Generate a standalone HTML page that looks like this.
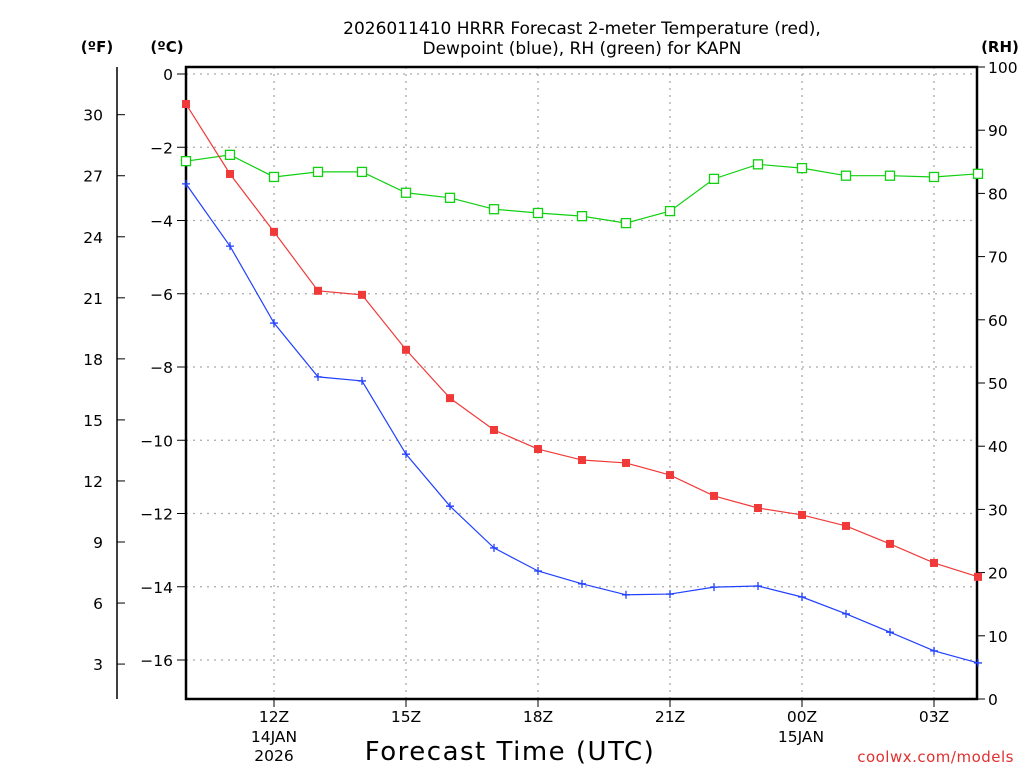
<!DOCTYPE html>
<html><head><meta charset="utf-8"><style>
body{margin:0;background:#fff;width:1024px;height:768px;overflow:hidden}
svg text{font-family:"DejaVu Sans","Liberation Sans",sans-serif}
</style></head><body>
<svg id="c" width="1024" height="768" xmlns="http://www.w3.org/2000/svg">
<text x="582" y="34" font-size="17" text-anchor="middle">2026011410 HRRR Forecast 2-meter Temperature (red),</text>
<text x="582" y="54" font-size="17" text-anchor="middle">Dewpoint (blue), RH (green) for KAPN</text>
<text x="97" y="52" font-size="15" font-weight="bold" text-anchor="middle">(ºF)</text>
<text x="167" y="52" font-size="15" font-weight="bold" text-anchor="middle">(ºC)</text>
<text x="1000" y="52" font-size="15" font-weight="bold" text-anchor="middle">(RH)</text>
<text x="510" y="760" font-size="26" letter-spacing="1.5" text-anchor="middle">Forecast Time (UTC)</text>
<text x="1014" y="762" font-size="15" letter-spacing="0.5" fill="#e03030" text-anchor="end">coolwx.com/models</text>
<g id="grid"></g><g id="axes"></g><g id="series"></g>
</svg>
<script>
const hours=[10,11,12,13,14,15,16,17,18,19,20,21,22,23,24,25,26,27,28];
const tempC=[-0.82,-2.73,-4.31,-5.92,-6.03,-7.53,-8.85,-9.72,-10.24,-10.54,-10.62,-10.95,-11.52,-11.85,-12.04,-12.34,-12.83,-13.35,-13.73];
const dewC=[-3.00,-4.70,-6.80,-8.27,-8.38,-10.38,-11.80,-12.94,-13.57,-13.92,-14.22,-14.20,-14.01,-13.98,-14.28,-14.74,-15.24,-15.75,-16.08];
const rh=[85.1,86.1,82.6,83.4,83.4,80.1,79.3,77.5,76.9,76.4,75.3,77.2,82.3,84.6,84.0,82.8,82.8,82.6,83.1];
const xTickHours=[12,15,18,21,24,27];
const xTickLabels=["12Z","15Z","18Z","21Z","00Z","03Z"];
const cTicks=[0,-2,-4,-6,-8,-10,-12,-14,-16];
const fTicks=[30,27,24,21,18,15,12,9,6,3];
const rhTicks=[0,10,20,30,40,50,60,70,80,90,100];
const L=186,R=977,T=67,B=699;
const X=h=>L+(h-10)*44;
const YC=c=>74-c*36.625;
const YF=f=>YC((f-32)/1.8);
const YR=r=>B-r*(B-T)/100;
const NS="http://www.w3.org/2000/svg";
function mk(p,t,a){const e=document.createElementNS(NS,t);for(const k in a)e.setAttribute(k,a[k]);document.getElementById(p).appendChild(e);return e;}
cTicks.forEach(c=>{const l=mk('grid','line',{x1:L,x2:R,y1:YC(c),y2:YC(c),stroke:'#aaa','stroke-width':1.3,'stroke-dasharray':'2,5'});


const t=mk('axes','line',{x1:L-9,x2:L,y1:YC(c),y2:YC(c),stroke:'#000'});


const s=mk('axes','text',{x:L-13,y:YC(c)+6,'font-size':15.5,'text-anchor':'end'});s.textContent=c<0?'\u2212'+(-c):c;

});
xTickHours.forEach((h,i)=>{const l=mk('grid','line',{x1:X(h),x2:X(h),y1:T,y2:B,stroke:'#aaa','stroke-width':1.3,'stroke-dasharray':'2,5'});


const t=mk('axes','line',{x1:X(h),x2:X(h),y1:B,y2:B+8,stroke:'#000'});


const s=mk('axes','text',{x:X(h),y:722,'font-size':15.5,'text-anchor':'middle'});s.textContent=xTickLabels[i];

});
[["14JAN",274,742],["2026",274,761],["15JAN",801,742]].forEach(d=>{const s=mk('axes','text',{x:d[1],y:d[2],'font-size':15.5,'text-anchor':'middle'});s.textContent=d[0];

});
const fl=mk('axes','line',{x1:117,x2:117,y1:T,y2:B,stroke:'#000','stroke-width':1.5});


fTicks.forEach(f=>{const t=mk('axes','line',{x1:117,x2:125,y1:YF(f),y2:YF(f),stroke:'#000'});


const s=mk('axes','text',{x:103,y:YF(f)+6,'font-size':15.5,'text-anchor':'end'});s.textContent=f;

});
rhTicks.forEach(r=>{const t=mk('axes','line',{x1:R,x2:R+8,y1:YR(r),y2:YR(r),stroke:'#000'});


const s=mk('axes','text',{x:988,y:YR(r)+6,'font-size':15.5});s.textContent=r;

});
const fr=mk('axes','rect',{x:L,y:T,width:R-L,height:B-T,fill:'none',stroke:'#000','stroke-width':2.5});


function line(vals,yf,col,name){const p=mk('series','polyline',{points:vals.map((v,i)=>X(hours[i])+','+yf(v)).join(' '),fill:'none',stroke:col,'stroke-width':1.2});

}
line(rh,YR,'#10d010','rh-line');line(tempC,YC,'#f03a3a','temperature-line');line(dewC,YC,'#2040ff','dewpoint-line');
rh.forEach((v,i)=>{const m=mk('series','rect',{x:X(hours[i])-4.5,y:YR(v)-4.5,width:9,height:9,fill:'#fff',stroke:'#10d010','stroke-width':1.3});

});
tempC.forEach((v,i)=>{const m=mk('series','rect',{x:X(hours[i])-4,y:YC(v)-4,width:8,height:8,fill:'#f03a3a'});

});
dewC.forEach((v,i)=>{const x=X(hours[i]),y=YC(v);const m=mk('series','path',{d:`M${x-4} ${y}H${x+4}M${x} ${y-4}V${y+4}`,stroke:'#2040ff','stroke-width':1.3});

});
</script>
</body></html>
